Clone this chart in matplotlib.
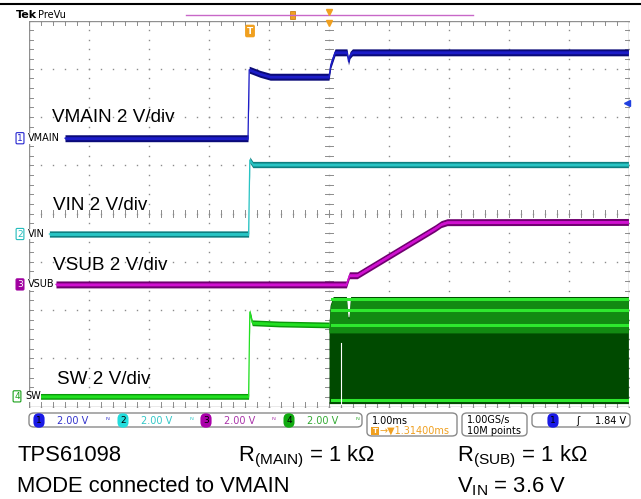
import numpy as np
import matplotlib.pyplot as plt
from matplotlib.patches import FancyBboxPatch, Rectangle
from matplotlib.lines import Line2D

plt.rcParams['font.family'] = ['Liberation Sans', 'DejaVu Sans']
plt.rcParams['mathtext.fontset'] = 'custom'
plt.rcParams['mathtext.rm'] = 'Liberation Sans'

W, H = 641, 499

# scope settings: 1 ms/div, 2 V/div, 10 x 8 divisions
ms_per_div = 1.0
v_per_div = 2.0
trig_div = 3.67          # trigger position from left edge (div)

# channel ground levels (div from bottom of screen)
off_main = 5.56
off_in = 3.575
off_sub = 2.53
off_sw = 0.21

# traces: time in ms relative to trigger, voltage in V
vmain_t = [-3.07, -0.02, 0.0, 0.045, 0.18, 0.35, 1.33, 1.36, 1.43, 1.63, 1.655, 1.68, 1.72, 6.32]
vmain_v = [0.0, 0.0, 2.84, 2.80, 2.67, 2.55, 2.55, 3.05, 3.56, 3.56, 3.18, 3.45, 3.56, 3.56]

vin_t = [-3.33, -0.01, 0.01, 0.06, 6.32]
vin_v = [0.0, 0.0, 3.07, 2.88, 2.88]

vsub_t = [-3.22, 1.62, 1.67, 1.80, 3.10, 3.20, 3.30, 6.32]
vsub_v = [0.0, 0.0, 0.38, 0.38, 2.33, 2.50, 2.58, 2.59]

sw_t = [-3.55, -0.01, 0.01, 0.05, 0.5, 1.33]
sw_v = [0.0, 0.0, 3.50, 3.05, 3.00, 2.96]

# switching envelope of SW after VMAIN takes over
swb_t = [1.33, 1.35, 1.40, 1.62, 1.645, 1.665, 1.69, 6.32]
swb_top = [2.96, 3.80, 4.14, 4.14, 3.30, 3.30, 4.14, 4.14]
swb_bot = -0.30
sw_lines = [4.02, 3.56, 2.95, -0.15]   # bright ripple levels (V)
sw_mid = 2.63


def tx(t):
    return trig_div + np.asarray(t, dtype=float) / ms_per_div


def vy(v, off):
    return off + np.asarray(v, dtype=float) / v_per_div


def fx(x):
    return x / W


def fy(y):
    return 1 - y / H


fig = plt.figure(figsize=(W / 100, H / 100), dpi=100)
fig.patch.set_facecolor('white')
ax = fig.add_axes([fx(29), fy(406.5), 600 / W, 386 / H])
ax.set_xlim(0, 10)
ax.set_ylim(0, 8)
ax.axis('off')

# graticule
gc = '#8c8c8c'
for i in range(11):
    ys = np.arange(0, 8.01, 0.2)
    ax.plot(np.full_like(ys, i), ys, ls='none', marker='s', ms=1.0, mew=0, color=gc)
for j in range(9):
    xs = np.arange(0, 10.01, 0.2)
    ax.plot(xs, np.full_like(xs, j), ls='none', marker='s', ms=1.0, mew=0, color=gc)
for yv in np.arange(0, 8.01, 0.2):
    ax.plot([4.94, 5.06], [yv, yv], color=gc, lw=0.7)
    ax.plot([0, 0.07], [yv, yv], color=gc, lw=0.7)
    ax.plot([9.93, 10], [yv, yv], color=gc, lw=0.7)
for xv in np.arange(0, 10.01, 0.2):
    ax.plot([xv, xv], [3.92, 4.08], color=gc, lw=0.7)
    ax.plot([xv, xv], [0, 0.09], color=gc, lw=0.7)
    ax.plot([xv, xv], [7.91, 8], color=gc, lw=0.7)
ax.add_patch(Rectangle((0, 0), 10, 8, fill=False, ec='#909090', lw=1))


def trace(t, v, off, dark, bright, h=0.072, hi=0.03):
    x = tx(t)
    y = vy(v, off)
    ax.fill_between(x, y - h, y + h, color=dark, lw=0, zorder=3)
    ax.fill_between(x, y - hi, y + hi, color=bright, lw=0, zorder=3)
    ax.plot(x, y, color=bright, lw=0.9, zorder=3)


# SW switching band
bx = tx(swb_t)
ax.fill_between(bx, vy(swb_bot, off_sw), vy(swb_top, off_sw), color='#004a00', lw=0, zorder=2)
ax.fill_between(bx, vy(sw_mid, off_sw), vy(swb_top, off_sw) - 0.03, color='#128a12', lw=0, zorder=2)
for lv in sw_lines:
    ax.plot(tx([1.38, 6.32]), vy([lv, lv], off_sw), color='#2ee82e', lw=2.2, zorder=2)
ax.plot(tx([1.525, 1.525]), vy([2.2, -0.3], off_sw), color='white', lw=0.8, zorder=2)

trace(sw_t, sw_v, off_sw, '#0a9a0a', '#22e022', h=0.06)
trace(vsub_t, vsub_v, off_sub, '#700070', '#d010d0')
trace(vin_t, vin_v, off_in, '#0e7f80', '#28c4c4', h=0.065)
trace(vmain_t, vmain_v, off_main, '#0a0a78', '#1c1cc8')

# trace captions
lab_kw = dict(fontsize=13.6, va='center', ha='left', color='black')
fig.text(fx(52), fy(117), 'VMAIN 2 V/div', **lab_kw)
fig.text(fx(53), fy(206), 'VIN 2 V/div', **lab_kw)
fig.text(fx(53), fy(265), 'VSUB 2 V/div', **lab_kw)
fig.text(fx(57), fy(379), 'SW 2 V/div', **lab_kw)

# channel ground markers
marks = [('1', 'VMAIN', off_main, '#2424d0', False, 20),
         ('2', 'VIN', off_in, '#22bcbc', False, 20),
         ('3', 'VSUB', off_sub, '#a000a0', True, 20),
         ('4', 'SW', off_sw, '#18a018', False, 17)]
for num, name, off, col, filled, xc in marks:
    ypx = 406.5 - off * 48.25
    fig.text(fx(xc), fy(ypx), num, fontsize=6.5, family='DejaVu Sans', ha='center', va='center',
             color='white' if filled else col,
             bbox=dict(boxstyle='round,pad=0.12', fc=col if filled else 'white', ec=col, lw=0.8))
    fig.text(fx(xc + 8), fy(ypx), name, fontsize=7, family='DejaVu Sans', ha='left', va='center',
             color='black', bbox=dict(boxstyle='square,pad=0.05', fc='white', ec='none'))

# header
fig.add_artist(Line2D([0, 1], [fy(4), fy(4)], transform=fig.transFigure, color='black', lw=1.5))
fig.text(fx(16), fy(15.5), 'Tek', fontsize=8, fontweight='bold', family='DejaVu Sans', va='center')
fig.text(fx(38), fy(15.5), 'PreVu', fontsize=7, family='DejaVu Sans', va='center')
fig.add_artist(Line2D([fx(186), fx(473)], [fy(15), fy(15)], transform=fig.transFigure,
                      color='#c868c8', lw=1))
orange = '#f0a020'
fig.add_artist(Rectangle((fx(290), fy(19)), 5 / W, 8 / H, transform=fig.transFigure,
                         fc=orange, ec='#c07000', lw=0.5))
fig.add_artist(Line2D([fx(329)], [fy(12)], transform=fig.transFigure, marker='v', ms=4,
                      color=orange, ls='none'))
fig.add_artist(Line2D([fx(329)], [fy(22.5)], transform=fig.transFigure, marker='v', ms=4,
                      color=orange, ls='none'))
fig.text(fx(250), fy(31), 'T', fontsize=6.5, fontweight='bold', family='DejaVu Sans', color='white',
         ha='center', va='center', bbox=dict(boxstyle='round,pad=0.2', fc=orange, ec='none'))
fig.add_artist(Line2D([fx(627)], [fy(103)], transform=fig.transFigure, marker='<', ms=4,
                      color='#2040e0', ls='none'))

# status bar
def pill(x0, x1, y0, y1):
    fig.add_artist(FancyBboxPatch((fx(x0), fy(y1)), (x1 - x0) / W, (y1 - y0) / H,
                                  boxstyle='round,pad=0,rounding_size=0.008',
                                  transform=fig.transFigure, fc='white', ec='#8a8a8a', lw=1))


pill(29, 362, 413, 427)
pill(367, 457, 413, 436)
pill(462, 527, 413, 436)
pill(532, 630, 413, 427)

sb = dict(fontsize=7, family='DejaVu Sans', va='center', ha='left')
badge = dict(boxstyle='round,pad=0.3,rounding_size=0.6', ec='none')
chans = [('1', '#1a1ae6', '#3333cc', 39), ('2', '#22dddd', '#33c8c8', 123),
         ('3', '#aa00aa', '#aa33aa', 206), ('4', '#11aa11', '#33aa33', 289)]
for num, fc, tc, xc in chans:
    fig.text(fx(xc), fy(420.5), num, fontsize=6.5, family='DejaVu Sans', ha='center', va='center',
             color='black', bbox=dict(fc=fc, **badge))
    fig.text(fx(xc + 18), fy(420.5), '2.00 V', color=tc, **sb)
    fig.text(fx(xc + 66), fy(420), 'ᴺ', color=tc, fontsize=6, family='DejaVu Sans', va='center')

fig.text(fx(372), fy(420.5), '1.00ms', color='black', **sb)
fig.text(fx(375), fy(431), 'T', fontsize=5, fontweight='bold', family='DejaVu Sans', color='white',
         ha='center', va='center', bbox=dict(boxstyle='square,pad=0.15', fc=orange, ec='none'))
fig.text(fx(379), fy(431), '→▼1.31400ms', color=orange, **sb)
fig.text(fx(467), fy(420.5), '1.00GS/s', color='black', **sb)
fig.text(fx(467), fy(431), '10M points', color='black', **sb)
fig.text(fx(553), fy(420.5), '1', fontsize=6.5, family='DejaVu Sans', ha='center', va='center',
         color='black', bbox=dict(fc='#1a1ae6', **badge))
fig.text(fx(576), fy(420.5), 'ʃ', color='black', **sb)
fig.text(fx(595), fy(420.5), '1.84 V', color='black', **sb)

# notes under the screen
nt = dict(fontsize=15.8, va='baseline', ha='left', color='black')
fig.text(fx(17), fy(461), 'TPS61098', **nt)
fig.text(fx(238), fy(461), r'R$_{\mathrm{(MAIN)}}$ = 1 kΩ', **nt)
fig.text(fx(457), fy(461), r'R$_{\mathrm{(SUB)}}$ = 1 kΩ', **nt)
fig.text(fx(17), fy(492), 'MODE connected to VMAIN', **nt)
fig.text(fx(457), fy(492), r'V$_{\mathrm{IN}}$ = 3.6 V', **nt)

fig.savefig('out.png', dpi=100)
